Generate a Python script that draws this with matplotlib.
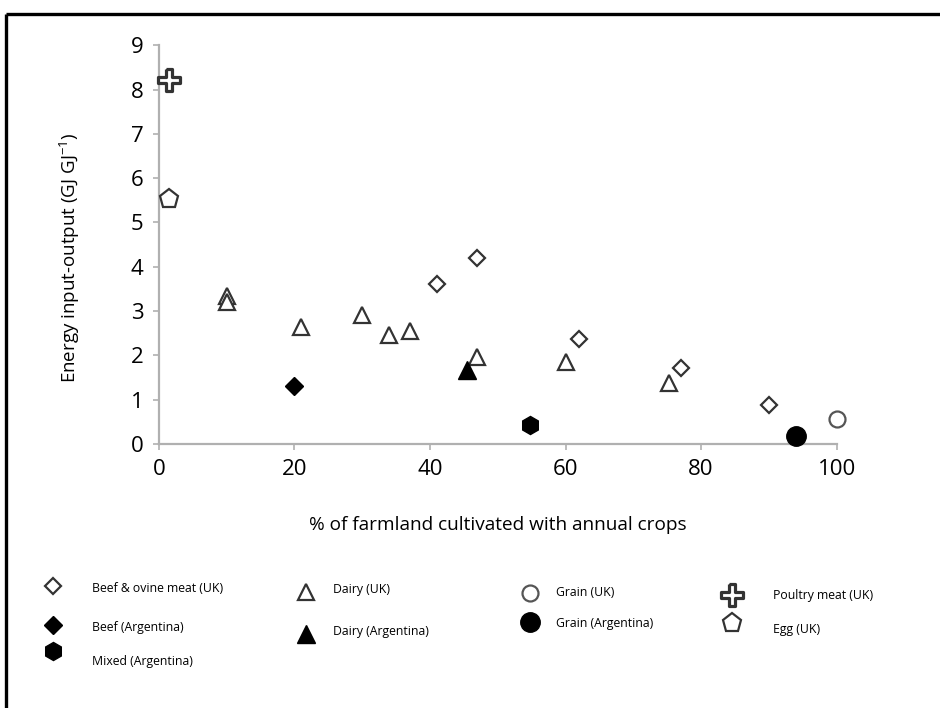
import matplotlib
matplotlib.use('Agg')
import matplotlib.pyplot as plt

plt.rcParams['font.family'] = ['Open Sans', 'DejaVu Sans']
plt.rcParams['mathtext.default'] = 'regular'

# data: (% farmland with annual crops, energy input-output)
beef_uk_x = [41, 47, 62, 77, 90]
beef_uk_y = [3.62, 4.2, 2.37, 1.72, 0.87]
beef_arg_x = [20]
beef_arg_y = [1.3]
mixed_arg_x = [54.7]
mixed_arg_y = [0.42]
dairy_uk_x = [10, 10, 21, 30, 34, 37, 47, 60, 75.2]
dairy_uk_y = [3.33, 3.2, 2.65, 2.9, 2.46, 2.55, 1.96, 1.85, 1.38]
dairy_arg_x = [45.4]
dairy_arg_y = [1.68]
grain_uk_x = [100]
grain_uk_y = [0.57]
grain_arg_x = [94]
grain_arg_y = [0.18]
poultry_uk_x = [1.5]
poultry_uk_y = [8.22]
egg_uk_x = [1.5]
egg_uk_y = [5.52]

# chunky plus used for the poultry symbol
a = 0.3
plus = [(-a, 1), (a, 1), (a, a), (1, a), (1, -a), (a, -a), (a, -1),
        (-a, -1), (-a, -a), (-1, -a), (-1, a), (-a, a), (-a, 1)]

edge = '#333333'
series = [
    ('Beef & ovine meat (UK)', beef_uk_x, beef_uk_y, dict(marker='D', ms=8.3, mfc='white', mec=edge, mew=1.6)),
    ('Beef (Argentina)', beef_arg_x, beef_arg_y, dict(marker='D', ms=9, mfc='black', mec='black', mew=1)),
    ('Mixed (Argentina)', mixed_arg_x, mixed_arg_y, dict(marker='h', ms=13, mfc='black', mec='black', mew=1)),
    ('Dairy (UK)', dairy_uk_x, dairy_uk_y, dict(marker='^', ms=12, mfc='white', mec=edge, mew=1.6)),
    ('Dairy (Argentina)', dairy_arg_x, dairy_arg_y, dict(marker='^', ms=13, mfc='black', mec='black', mew=1)),
    ('Grain (UK)', grain_uk_x, grain_uk_y, dict(marker='o', ms=11.5, mfc='white', mec='#555555', mew=1.6)),
    ('Grain (Argentina)', grain_arg_x, grain_arg_y, dict(marker='o', ms=14, mfc='black', mec='black', mew=1)),
    ('Poultry meat (UK)', poultry_uk_x, poultry_uk_y, dict(marker=plus, ms=15.5, mfc='white', mec=edge, mew=2.3)),
    ('Egg (UK)', egg_uk_x, egg_uk_y, dict(marker='p', ms=14, mfc='white', mec=edge, mew=1.6)),
]

fig = plt.figure(figsize=(9.4, 7.08), dpi=100)
ax = fig.add_axes([0.169, 0.373, 0.721, 0.563])

for name, xs, ys, st in series:
    ax.plot(xs, ys, ls='none', clip_on=False, zorder=3, **st)

ax.set_xlim(0, 100)
ax.set_ylim(0, 9)
ax.set_xticks(range(0, 101, 20))
ax.set_yticks(range(0, 10))
for s in ['top', 'right']:
    ax.spines[s].set_visible(False)
for s in ['left', 'bottom']:
    ax.spines[s].set_color('#b0b0b0')
    ax.spines[s].set_linewidth(1.6)
ax.tick_params(direction='out', length=4, width=1.2, color='#b0b0b0',
               labelsize=16, pad=7)
ax.set_xlabel('% of farmland cultivated with annual crops', fontsize=13.7, labelpad=26)
ax.set_ylabel('Energy input-output (GJ GJ$^{-1}$)', fontsize=13.5)
ax.yaxis.set_label_coords(-0.114, 0.468)

# legend laid out by hand in pixel coordinates, like the original
ov = fig.add_axes([0, 0, 1, 1], zorder=-1)
ov.set_xlim(0, 940)
ov.set_ylim(708, 0)
ov.axis('off')

leg_pos = [(53, 586, 92), (53, 625, 92), (53, 651, 92),
           (306, 592, 333), (306, 634, 333),
           (530, 593, 556), (530, 622, 556),
           (732, 595, 773), (732, 623, 773)]
leg_text_dy = [2, 2, 10, -2, -2, 0, 2, 0, 7]
for (name, xs, ys, st), (mx, my, tx), dy in zip(series, leg_pos, leg_text_dy):
    ov.plot([mx], [my], ls='none', **st)
    ov.text(tx, my + dy, name, fontsize=8.8, va='center', ha='left')

# frame lines at top and left of the panel
ov.plot([6, 940], [14, 14], color='black', lw=2.4, solid_capstyle='butt')
ov.plot([6, 6], [14, 708], color='black', lw=2.4, solid_capstyle='butt')

fig.savefig('out.png', dpi=100)
